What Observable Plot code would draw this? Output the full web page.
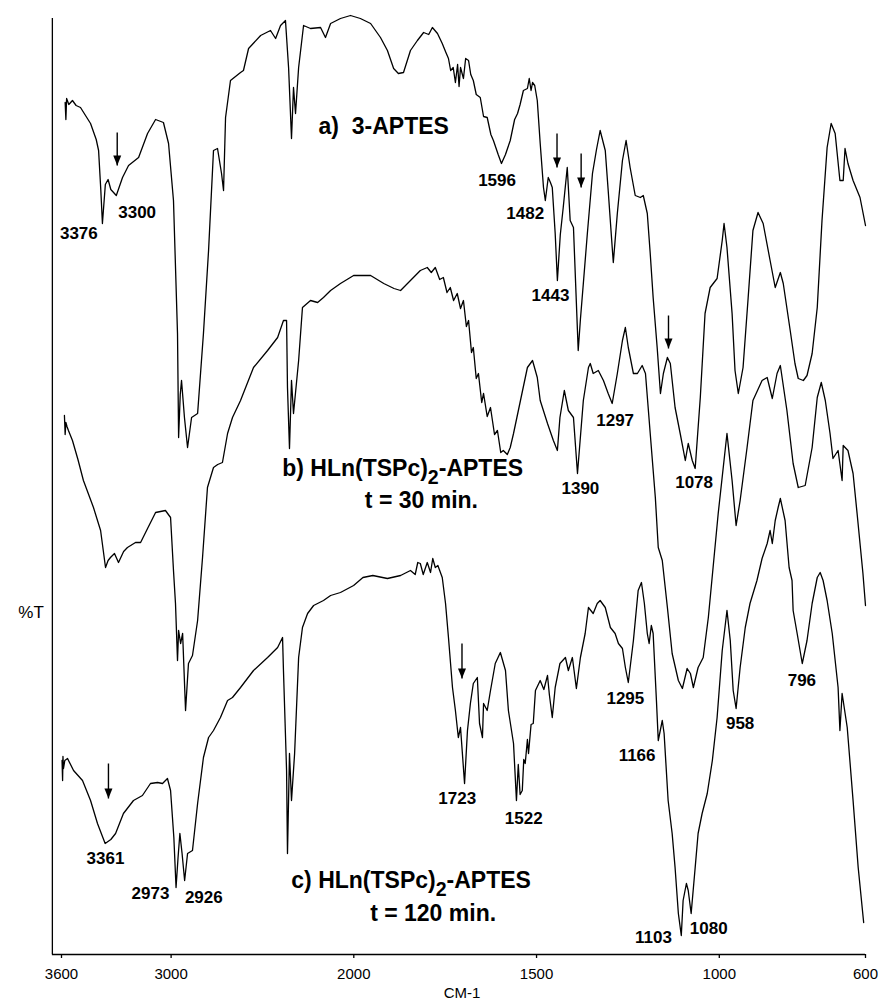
<!DOCTYPE html>
<html>
<head>
<meta charset="utf-8">
<script src="https://cdn.jsdelivr.net/npm/d3@7"></script>
<script src="https://cdn.jsdelivr.net/npm/@observablehq/plot@0.6"></script>
<style>
  html, body { margin: 0; padding: 0; background: #fff; }
  svg { display: block; }
</style>
</head>
<body>
<div id="chart"></div>
<script>
// x-axis ticks (wavenumber, cm-1)
const xTicks = [3600, 3000, 2000, 1500, 1000, 600];

// Trace a) 3-APTES : wavenumber / %T (arbitrary offset units)
const waveA = [3580,3576,3572,3560,3540,3520,3496,3441,3410,3397,3385,3376,3360,3345,3330,3300,3266,3233,3178,3129,3085,3042,3014,2987,2965,2959,2950,2943,2927,2910,2888,2855,2823,2795,2768,2746,2724,2713,2702,2675,2620,2604,2576,2510,2456,2428,2401,2374,2357,2341,2330,2319,2302,2275,2237,2182,2155,2127,2073,2018,1982,1954,1927,1908,1891,1878,1864,1845,1826,1809,1795,1785,1771,1758,1748,1741,1735,1728,1722,1716,1712,1708,1700,1694,1686,1680,1673,1665,1654,1645,1635,1625,1618,1605,1596,1585,1572,1560,1552,1545,1536,1525,1520,1515,1511,1505,1498,1490,1481,1476,1468,1462,1457,1449,1443,1435,1427,1416,1408,1399,1386,1380,1372,1361,1347,1336,1326,1312,1304,1293,1290,1279,1265,1255,1244,1230,1216,1208,1197,1189,1181,1170,1161,1153,1142,1134,1121,1107,1093,1085,1074,1066,1052,1039,1025,1006,992,987,979,965,957,948,935,921,908,894,880,861,847,833,825,806,793,784,770,760,746,732,719,705,694,683,670,661,656,648,634,615,600];
const tA = [85.2,83.5,85.6,85.0,85.4,84.9,84.7,83.1,81.5,80.4,76.5,73.1,77.0,77.5,76.5,75.9,77.7,78.9,79.7,82.1,83.5,83.2,81.1,75.4,62.1,51.7,56.0,57.4,53.7,50.7,53.7,54.1,62.1,70.4,80.4,80.6,78.1,76.4,83.7,87.4,88.2,88.4,90.6,91.9,92.4,91.6,92.9,93.4,88.7,81.6,86.7,84.1,88.7,92.9,92.6,92.7,91.7,93.1,93.6,93.9,93.6,93.1,91.7,90.4,88.6,88.1,88.2,90.4,91.4,92.2,92.0,92.7,92.1,91.1,90.2,89.6,88.4,88.7,87.2,89.0,86.8,88.7,87.6,89.6,89.4,88.0,87.4,86.0,85.7,83.8,83.7,82.0,81.4,80.0,79.1,80.0,81.4,83.5,84.1,85.0,86.4,86.6,87.6,86.4,87.2,86.9,85.4,81.1,76.7,75.4,77.7,77.2,76.7,72.1,67.4,72.0,74.7,78.7,73.4,72.7,60.4,63.5,67.1,72.1,78.1,80.5,82.4,80.4,76.4,70.7,69.2,74.1,79.4,81.4,78.7,75.9,75.7,75.9,74.1,70.1,65.7,60.7,56.1,58.1,59.7,59.1,54.7,52.1,49.4,51.1,49.4,48.6,55.7,64.1,66.7,67.6,71.4,73.1,70.7,64.1,58.4,56.1,58.7,65.7,72.4,74.2,73.1,69.4,66.7,68.2,67.1,62.4,59.1,57.6,57.4,57.9,60.1,64.7,73.4,80.7,83.1,82.1,77.4,77.4,80.6,79.1,77.4,75.7,72.9];

// Trace b) HLn(TSPc)2-APTES, t = 30 min.
const waveB = [3584,3580,3576,3570,3562,3540,3510,3480,3425,3386,3359,3345,3332,3310,3288,3260,3239,3195,3167,3129,3085,3031,3003,2987,2976,2965,2959,2948,2937,2921,2905,2883,2855,2828,2801,2773,2768,2745,2719,2691,2664,2620,2549,2472,2417,2385,2368,2363,2352,2341,2330,2302,2281,2237,2198,2166,2127,2073,2001,1954,1918,1890,1872,1845,1818,1799,1788,1777,1765,1755,1745,1736,1727,1717,1708,1700,1692,1686,1678,1673,1665,1659,1650,1645,1635,1626,1615,1607,1598,1591,1580,1572,1563,1544,1525,1511,1498,1490,1470,1454,1443,1436,1424,1413,1399,1388,1372,1358,1353,1345,1331,1317,1304,1293,1279,1265,1257,1249,1235,1224,1211,1202,1189,1175,1167,1156,1142,1129,1112,1101,1088,1079,1071,1058,1044,1030,1017,1003,979,965,954,943,924,908,883,869,855,842,833,815,798,784,765,746,732,721,710,697,689,675,664,661,648,634,623,615,607,600];
const tB = [53.9,52.0,53.2,52.8,52.4,51.4,49.5,47.4,44.7,42.4,38.7,39.4,39.7,40.1,39.2,40.3,40.7,41.2,41.2,42.6,44.2,44.4,43.7,38.4,35.1,29.4,32.4,31.1,32.1,24.4,29.1,29.9,33.4,39.7,46.7,48.4,48.7,49.0,49.2,52.1,53.7,55.4,58.7,60.4,61.7,63.4,63.4,56.7,50.6,57.4,54.1,59.4,64.7,65.4,65.2,65.7,66.4,67.1,67.9,67.9,67.1,66.6,66.4,67.4,68.4,68.7,68.2,68.7,67.5,67.7,66.2,66.7,65.4,66.1,64.6,65.4,62.8,63.4,60.2,60.7,57.6,58.1,55.2,56.1,53.8,54.7,52.0,52.4,50.2,50.4,50.0,50.7,52.1,55.4,58.7,59.4,57.7,55.4,53.1,51.4,50.4,53.7,56.4,54.4,53.7,48.1,55.4,58.7,59.1,58.1,58.4,57.4,56.1,55.1,58.1,61.4,62.7,60.7,58.1,58.1,58.9,58.1,52.1,45.7,40.7,39.4,34.7,30.1,27.4,26.6,28.6,28.1,26.7,28.7,29.7,33.7,38.7,44.1,52.1,47.4,42.9,45.4,50.7,55.4,57.4,57.7,55.6,58.1,58.9,54.4,49.1,46.7,46.9,50.7,55.7,57.2,55.4,52.1,49.6,50.4,47.4,50.9,50.4,48.1,44.1,41.1,38.1,34.9];

// Trace c) HLn(TSPc)2-APTES, t = 120 min.
const waveC = [3597,3594,3592,3589,3582,3567,3534,3485,3441,3403,3380,3361,3330,3304,3261,3206,3157,3113,3074,3047,3020,3003,2985,2973,2962,2952,2940,2926,2910,2883,2855,2823,2795,2768,2730,2691,2664,2620,2549,2472,2417,2390,2385,2368,2363,2352,2341,2324,2302,2281,2253,2220,2166,2127,2073,2001,1975,1948,1908,1872,1845,1832,1825,1818,1810,1799,1790,1784,1777,1770,1758,1749,1741,1730,1722,1714,1708,1697,1689,1681,1673,1662,1656,1648,1645,1635,1626,1613,1599,1585,1577,1563,1555,1550,1545,1539,1535,1531,1525,1522,1515,1509,1503,1490,1480,1470,1465,1457,1449,1436,1421,1413,1402,1391,1380,1367,1358,1345,1334,1326,1312,1298,1285,1276,1265,1257,1249,1235,1222,1213,1205,1197,1192,1186,1181,1172,1167,1156,1151,1140,1129,1121,1112,1104,1099,1090,1085,1077,1066,1058,1047,1033,1019,1006,992,979,970,962,954,943,929,916,897,883,869,861,855,847,839,833,820,809,801,798,787,773,760,746,732,724,716,705,691,675,670,664,650,634,620,605];
const tC = [19.4,17.4,19.8,18.6,19.4,19.6,18.4,17.4,15.4,13.1,12.0,11.1,11.5,12.1,14.1,15.4,15.9,17.1,17.2,17.1,17.6,16.4,11.7,6.7,9.7,12.1,10.1,7.4,10.1,10.4,15.1,19.7,21.7,22.4,23.7,25.4,25.7,26.7,28.4,29.7,30.7,31.7,28.4,18.4,10.1,20.1,15.4,20.1,29.7,32.7,34.1,34.9,35.4,35.9,36.2,36.9,37.7,37.9,37.6,37.9,38.4,38.0,39.2,39.1,38.0,39.2,38.2,39.6,38.7,38.9,37.7,35.1,31.7,26.7,24.4,21.7,22.7,17.1,22.4,25.1,27.1,27.7,23.1,21.7,25.1,24.4,26.4,29.1,30.2,28.4,24.4,21.1,15.4,19.0,16.0,16.4,19.5,19.1,21.5,20.1,23.0,23.1,26.4,27.4,26.5,27.9,26.0,23.7,26.7,29.1,29.7,28.4,29.7,26.6,29.7,32.1,34.7,34.1,35.1,35.4,34.7,32.7,32.1,31.1,30.6,28.7,27.2,31.4,36.4,37.2,35.1,32.1,31.1,32.9,32.1,25.4,21.4,23.4,22.1,15.4,12.1,8.7,4.1,1.9,5.4,7.1,6.4,4.1,8.7,12.1,14.1,16.1,19.4,23.7,30.4,34.4,31.4,26.4,24.6,28.7,32.7,35.1,37.4,39.6,41.1,42.4,41.1,43.4,44.7,45.6,43.4,38.7,37.4,34.4,32.1,29.1,31.4,35.1,37.7,38.2,37.4,35.4,32.1,26.7,22.4,26.1,22.7,15.4,8.7,3.2];

// Peak annotations
const peakText = ["3376","3300","1596","1482","1443","1390","1297","1078","3361","2973","2926","1723","1522","1295","1166","1103","1080","958","796"];
const peakWave = [3505,3186,1608,1531,1462,1380,1285,1069,3359,3113,2821,1717,1535,1257,1225,1180,1029,943,774];
const peakT    = [72.1,74.2,77.4,74.1,65.9,46.6,53.4,47.2,9.6,6.1,5.7,15.6,13.6,25.6,19.9,1.7,2.6,23.1,27.4];

// Arrows (wavenumber, tail %T, tip %T)
const arrowWave = [3295,1444,1378,1139,3343,1704];
const arrowTail = [82.2,82.1,80.1,63.9,19.1,31.1];
const arrowTip  = [78.9,78.7,76.7,60.6,15.6,27.6];

// Series labels
const seriesText   = ["a)\u00a0\u00a03-APTES", "b) HLn(TSPc)\u2082-APTES", "c) HLn(TSPc)\u2082-APTES"];
const seriesWave   = [2193, 2392, 2342];
const seriesT      = [82.8, 48.6, 7.4];
const timeText = ["t = 30 min.", "t = 120 min."];
const timeWave = [1815, 1783];
const timeT    = [45.4, 4.1];

const toRows = (w, t, s) => w.map((d, i) => ({w: d, t: t[i], s}));
const spectra = [...toRows(waveA, tA, "a"), ...toRows(waveB, tB, "b"), ...toRows(waveC, tC, "c")];
const peaks = peakText.map((d, i) => ({label: d, w: peakWave[i], t: peakT[i]}));
const arrows = arrowWave.map((d, i) => ({w: d, tail: arrowTail[i], tip: arrowTip[i]}));
const series = seriesText.map((d, i) => ({label: d, w: seriesWave[i], t: seriesT[i]}));
const times = timeText.map((d, i) => ({label: d, w: timeWave[i], t: timeT[i]}));

const headSymbol = {
  draw(ctx) { ctx.moveTo(0, 0); ctx.lineTo(-4, -10); ctx.lineTo(4, -10); ctx.closePath(); }
};

const font = "'Liberation Sans', Arial, Helvetica, sans-serif";

const chart = Plot.plot({
  width: 878,
  height: 1001,
  marginTop: 0,
  marginBottom: 47,
  marginLeft: 52,
  marginRight: 13,
  style: {fontFamily: font, background: "#fff", color: "#000", overflow: "visible"},
  x: {type: "linear", domain: [3600, 2000, 600], range: [61, 353.3, 865]},
  y: {type: "linear", domain: [0, 95.4], axis: null},
  marks: [
    Plot.ruleX([3650], {y1: 0, y2: 93.6, stroke: "#000", strokeWidth: 1.3}),
    Plot.ruleY([0], {x1: 3650, x2: 600, stroke: "#000", strokeWidth: 1.3}),
    Plot.axisX({ticks: xTicks, tickSize: 4, tickPadding: 10, fontSize: 15, label: null,
      tickFormat: d => `${d}`, stroke: "#000", strokeWidth: 1.3}),
    Plot.text(["CM-1"], {frameAnchor: "bottom", dy: 39, dx: 3, lineAnchor: "middle", fontSize: 15, fill: "#000"}),
    Plot.text(["%T"], {x: 3697, y: 34.2, textAnchor: "end", fontSize: 17, fill: "#000"}),
    Plot.line(spectra, {x: "w", y: "t", z: "s", stroke: "#000", strokeWidth: 1.3}),
    Plot.link(arrows, {x1: "w", x2: "w", y1: "tail", y2: "tip", stroke: "#000", strokeWidth: 1.4}),
    Plot.dot(arrows, {x: "w", y: "tip", symbol: headSymbol, fill: "#000", stroke: "none", r: 5}),
    Plot.text(peaks, {x: "w", y: "t", text: "label", fontSize: 17, fontWeight: "bold", fill: "#000"}),
    Plot.text(series, {x: "w", y: "t", text: "label", textAnchor: "start", fontSize: 23, fontWeight: "bold", fill: "#000"}),
    Plot.text(times, {x: "w", y: "t", text: "label", fontSize: 23, fontWeight: "bold", fill: "#000"})
  ]
});

// render the subscript "2" in the compound names
d3.select(chart).selectAll("text").each(function() {
  const s = this.textContent;
  if (s.includes("\u2082") && this.children.length === 0) {
    const [pre, post] = s.split("\u2082");
    const t = d3.select(this);
    t.text(null);
    t.append("tspan").text(pre);
    t.append("tspan").attr("dy", "8").attr("font-size", "85%").text("2");
    t.append("tspan").attr("dy", "-8").text(post);
  }
});

document.getElementById("chart").appendChild(chart);
</script>
</body>
</html>
